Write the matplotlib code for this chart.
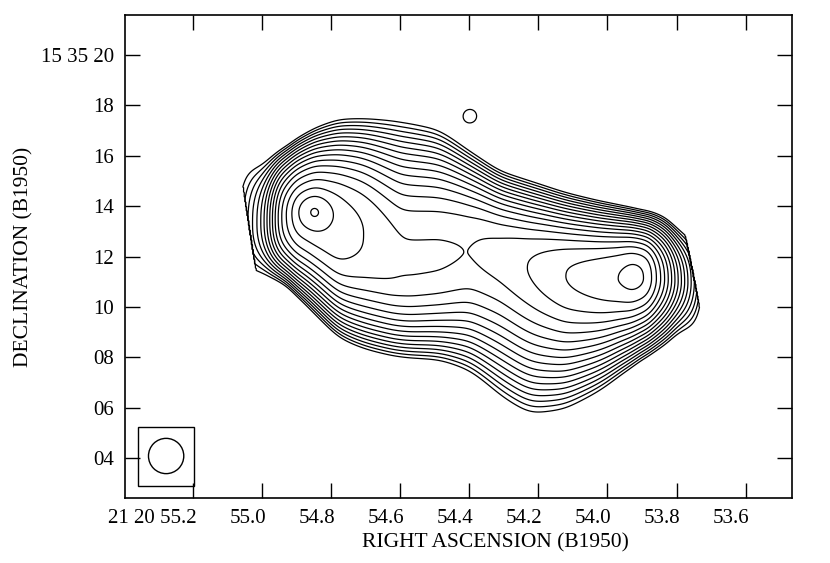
import numpy as np
import matplotlib
matplotlib.use("Agg")
import matplotlib.pyplot as plt
import matplotlib.transforms as mtransforms
from matplotlib.patches import Ellipse, Rectangle

plt.rcParams['font.family'] = ['Liberation Serif', 'DejaVu Serif']

# ---- axis data (RA seconds of 21h20m, Dec arcsec of +15d35m) ----
ra_lim = [55.396, 53.467]
dec_lim = [2.42, 21.59]
ra_ticks = [55.2, 55.0, 54.8, 54.6, 54.4, 54.2, 54.0, 53.8, 53.6]
ra_labels = ["21 20 55.2", "55.0", "54.8", "54.6", "54.4", "54.2", "54.0", "53.8", "53.6"]
dec_ticks = [4, 6, 8, 10, 12, 14, 16, 18, 20]
dec_labels = ["04", "06", "08", "10", "12", "14", "16", "18", "15 35 20"]

# contour levels (relative units, factor sqrt 2)
levels = [1.0, 1.414, 2.0, 2.828, 4.0, 5.657, 8.0, 11.31, 16.0, 22.63,
          32.0, 45.25, 64.0, 90.51, 128.0, 181.0, 256.0]

# source read along its ridge: offset east->west (arcsec from RA 54.4s),
# ridge brightness, ridge declination (arcsec), half widths above / below,
# and fall-off exponent below the ridge
ridge_u = [-9.6, -9.0, -8.8, -8.2, -7.5, -6.9, -6.16, -5.2, -4.2, -2.7, -1.2,
           0.0, 1.2, 2.4, 3.8, 5.2, 5.95, 6.5, 7.1, 7.8, 8.5, 9.2, 9.8]
ridge_peak = [0.3, 1.4, 1.9, 6.0, 64.0, 140.0, 168.0, 160.0, 128.0, 95.0, 94.0,
              89.5, 104.0, 130.0, 181.0, 225.0, 256.0, 300.0, 250.0, 60.0, 9.0, 1.4, 0.05]
ridge_dec = [13.3, 13.3, 13.3, 13.4, 13.5, 13.6, 13.7, 13.2, 13.0, 11.8, 12.0,
             12.26, 11.9, 11.5, 11.2, 11.1, 11.12, 11.15, 11.15, 11.1, 11.0, 10.9, 10.9]
width_up = [2.0, 2.0, 1.6, 1.25, 1.10, 1.18, 1.29, 1.62, 1.74, 2.21, 2.01,
            1.58, 1.38, 1.36, 1.26, 1.15, 1.08, 1.01, 0.97, 1.04, 0.97, 1.2, 1.2]
width_down = [1.6, 1.6, 1.4, 1.15, 0.98, 1.2, 1.49, 1.85, 2.06, 1.55, 1.63,
              1.76, 1.67, 1.73, 1.53, 1.26, 1.09, 0.97, 0.86, 0.86, 0.79, 1.2, 1.2]
shape_down = [2.4, 2.4, 2.4, 2.4, 2.4, 2.4, 2.4, 2.66, 2.79, 2.46, 2.4,
              2.2, 1.9, 1.9, 1.9, 1.9, 1.9, 1.9, 1.9, 1.9, 1.9, 1.9, 1.9]
shape_up = 2.4

# compact eastern hot spot on top of the ridge
hot_u, hot_dec, hot_peak, hot_size = -6.16, 13.77, 99.0, 0.45
# small isolated patch north of the source
patch_u, patch_dec, patch_peak, patch_size = 0.03, 17.58, 1.3, 0.36

# map edges (blanked beyond): offset at a declination, slope d(offset)/d(dec)
edge_left = (-8.50, 11.67, -0.155)
edge_right = (9.17, 9.88, -0.20)

# restoring beam (arcsec) and beam box (RA, Dec corners)
beam_ra, beam_dec, beam_diam = 55.277, 4.087, 1.40
beam_box = (55.359, 2.909, 55.196, 5.226)

ra0 = 54.4
sec_to_arcsec = 13.71

# ---- build map ----
ra = np.linspace(ra_lim[0], ra_lim[1], 900)
dec = np.linspace(dec_lim[0], dec_lim[1], 700)
u1 = (ra0 - ra) * sec_to_arcsec
step = u1[1] - u1[0]


def profile(vals, smooth, log=False):
    y = np.interp(u1, ridge_u, np.log(vals) if log else vals)
    sig = smooth / step
    k = np.arange(-int(4 * sig), int(4 * sig) + 1)
    ker = np.exp(-0.5 * (k / sig) ** 2)
    ker /= ker.sum()
    yp = np.pad(y, len(k) // 2, mode='edge')
    return np.convolve(yp, ker, mode='valid')


lnR = profile(ridge_peak, 0.2, log=True)
cc = profile(ridge_dec, 0.35)
su = profile(width_up, 0.35)
sd = profile(width_down, 0.35)
pd = profile(shape_down, 0.35)

RA, DEC = np.meshgrid(ra, dec)
U = (ra0 - RA) * sec_to_arcsec
dv = DEC - cc[None, :]
s = np.where(dv > 0, su[None, :], sd[None, :])
p = np.where(dv > 0, shape_up, pd[None, :])
F = np.exp(lnR[None, :] - 0.5 * (np.abs(dv) / s) ** p)
F += hot_peak * np.exp(-0.5 * ((U - hot_u) ** 2 + (DEC - hot_dec) ** 2) / hot_size ** 2)
F += patch_peak * np.exp(-0.5 * ((U - patch_u) ** 2 + (DEC - patch_dec) ** 2) / patch_size ** 2)

ul = edge_left[0] + edge_left[2] * (DEC - edge_left[1])
ur = edge_right[0] + edge_right[2] * (DEC - edge_right[1])
F[(U < ul) | (U > ur)] = 0.0

# ---- plot ----
fig = plt.figure(figsize=(8.3, 5.63), dpi=100)
ax = fig.add_axes([125 / 830, 65 / 563, 666.7 / 830, 483 / 563])
ax.contour(RA, DEC, F, levels=levels, colors='black', linewidths=0.9)

ax.set_xlim(ra_lim)
ax.set_ylim(dec_lim)
ax.set_xticks(ra_ticks)
ax.set_xticklabels(ra_labels)
ax.set_yticks(dec_ticks)
ax.set_yticklabels(dec_labels)
ax.tick_params(direction='in', top=True, right=True, length=10.8, width=1.0,
               labelsize=15, colors='black')
ax.tick_params(axis='x', pad=8)
ax.tick_params(axis='y', pad=8)
shift = mtransforms.ScaledTranslation(4 / 100, 0, fig.dpi_scale_trans)
for lab in ax.get_xticklabels():
    lab.set_horizontalalignment('right')
    lab.set_transform(lab.get_transform() + shift)
for sp in ax.spines.values():
    sp.set_linewidth(1.2)

ax.set_xlabel("RIGHT ASCENSION (B1950)", fontsize=15.5)
ax.xaxis.set_label_coords(0.555, -0.072)
ax.set_ylabel("DECLINATION (B1950)", fontsize=15.5)
ax.yaxis.set_label_coords(-0.137, 0.5)

bx0, by0, bx1, by1 = beam_box
ax.add_patch(Rectangle((bx0, by0), bx1 - bx0, by1 - by0, fill=False,
                       edgecolor='black', linewidth=1.0))
ax.add_patch(Ellipse((beam_ra, beam_dec), beam_diam / sec_to_arcsec, beam_diam,
                     fill=False, edgecolor='black', linewidth=1.0))

fig.savefig("out.png", dpi=100)
